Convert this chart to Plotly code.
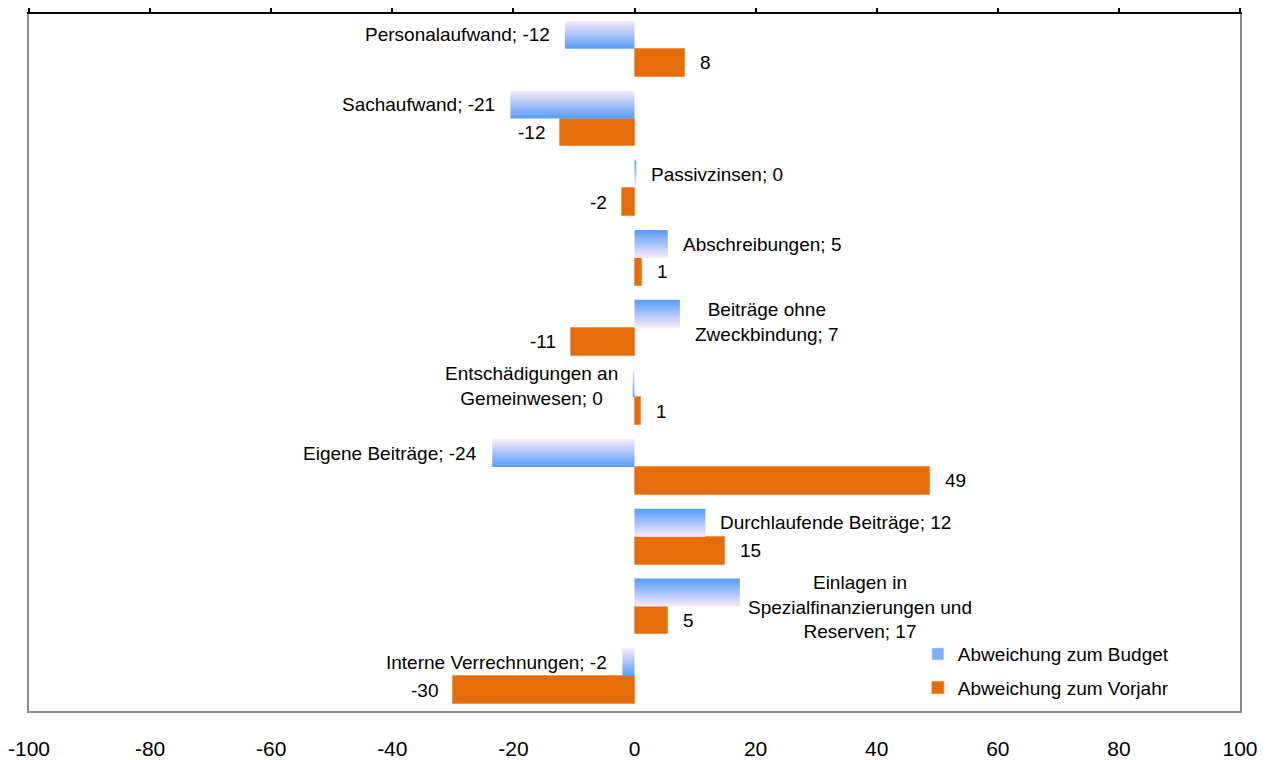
import plotly.graph_objects as go

# ---------------- data ----------------
categories = ["Personalaufwand", "Sachaufwand", "Passivzinsen", "Abschreibungen",
              "Beiträge ohne Zweckbindung", "Entschädigungen an Gemeinwesen",
              "Eigene Beiträge", "Durchlaufende Beiträge",
              "Einlagen in Spezialfinanzierungen und Reserven", "Interne Verrechnungen"]
budget_labels = ["Personalaufwand; -12", "Sachaufwand; -21", "Passivzinsen; 0",
                 "Abschreibungen; 5", "Beiträge ohne<br>Zweckbindung; 7",
                 "Entschädigungen an<br>Gemeinwesen; 0", "Eigene Beiträge; -24",
                 "Durchlaufende Beiträge; 12",
                 "Einlagen in<br>Spezialfinanzierungen und<br>Reserven; 17",
                 "Interne Verrechnungen; -2"]
budget = [-11.5, -20.5, 0.3, 5.5, 7.5, -0.3, -23.5, 11.7, 17.4, -2.0]
vorjahr = [8.3, -12.3, -2.0, 1.2, -10.5, 1.0, 48.8, 14.9, 5.5, -30.0]
vorjahr_labels = ["8", "-12", "-2", "1", "-11", "1", "49", "15", "5", "-30"]
x_ticks = [-100, -80, -60, -40, -20, 0, 20, 40, 60, 80, 100]
series_names = ["Abweichung zum Budget", "Abweichung zum Vorjahr"]

# ---------------- style ----------------
FONT = "Arial, Liberation Sans, sans-serif"
BLUE = "rgb(88,155,250)"
PALE = "rgb(248,234,248)"
ORANGE = "#E46C0A"
BAR_H = 0.4
# label placement tweaks (pixels): (xshift extra, yshift)
label_tweak = {4: (0, -8), 5: (0, -3), 8: (-7, -14)}

fig = go.Figure()

# blue gradient bars (one filled shape per category, positioned from data)
for i, v in enumerate(budget):
    top = i - BAR_H
    bot = i
    cs = [[0, PALE], [1, BLUE]] if v < 0 else [[0, BLUE], [1, PALE]]
    fig.add_trace(go.Scatter(
        x=[0, v, v, 0, 0], y=[top, top, bot, bot, top],
        mode="lines", line=dict(width=0), fill="toself",
        fillgradient=dict(type="vertical", colorscale=cs, start=top, stop=bot),
        name=series_names[0], showlegend=False, hoverinfo="skip"))

# legend entry for the budget series
fig.add_trace(go.Bar(x=[None], y=[None], orientation="h",
                     marker=dict(color="rgb(125,175,250)"),
                     name=series_names[0], legendgroup="a", hoverinfo="skip"))

# orange bars
fig.add_trace(go.Bar(
    x=vorjahr, y=[i + BAR_H / 2 for i in range(len(vorjahr))],
    orientation="h", width=BAR_H,
    marker=dict(color=ORANGE, line=dict(color="#F08A3A", width=0.8)),
    name=series_names[1], legendgroup="b", hoverinfo="skip"))

annotations = []
for i, (v, t) in enumerate(zip(budget, budget_labels)):
    dx, dy = label_tweak.get(i, (0, 0))
    left = v >= 0
    annotations.append(dict(
        x=v, y=i - BAR_H / 2, xref="x", yref="y", text=t, showarrow=False,
        xanchor="left" if left else "right", yanchor="middle",
        xshift=(13 + dx) if left else -(13 + dx), yshift=dy, align="center",
        font=dict(family=FONT, size=19, color="#000")))
for i, (v, t) in enumerate(zip(vorjahr, vorjahr_labels)):
    left = v >= 0
    annotations.append(dict(
        x=v, y=i + BAR_H / 2, xref="x", yref="y", text=t, showarrow=False,
        xanchor="left" if left else "right", yanchor="middle",
        xshift=13 if left else -13,
        font=dict(family=FONT, size=19, color="#000")))

fig.update_layout(
    width=1265, height=752,
    margin=dict(l=21, r=33, t=6, b=49, autoexpand=False),
    paper_bgcolor="white", plot_bgcolor="white",
    barmode="overlay", bargap=0,
    font=dict(family=FONT, size=19, color="#000"),
    annotations=annotations,
    xaxis=dict(range=[-100, 100], tickvals=x_ticks, ticktext=[str(t) for t in x_ticks],
               ticks="", showgrid=False, zeroline=False, showline=True,
               linecolor="#8C8C8C", linewidth=2, ticklabelstandoff=18,
               ticklabeloverflow="allow",
               tickfont=dict(family=FONT, size=21, color="#000")),
    xaxis2=dict(range=[-100, 100], overlaying="x", side="top", matches="x",
                tickvals=x_ticks, ticks="outside", ticklen=6, tickcolor="#000",
                tickwidth=1.5, showticklabels=False, showgrid=False, zeroline=False,
                showline=True, linecolor="#000", linewidth=2),
    yaxis=dict(range=[9.5, -0.5], showticklabels=False, ticks="", showgrid=False,
               zeroline=False, showline=True, mirror=True, linecolor="#8C8C8C",
               linewidth=2),
    legend=dict(x=0.734, y=0.109, xanchor="left", yanchor="top",
                traceorder="grouped", tracegroupgap=6, itemwidth=30,
                bgcolor="rgba(0,0,0,0)", font=dict(family=FONT, size=19, color="#000")),
    showlegend=True,
)
# invisible trace to activate the top axis
fig.add_trace(go.Scatter(x=[0], y=[0], xaxis="x2", mode="markers",
                         marker=dict(opacity=0), showlegend=False, hoverinfo="skip"))

fig.write_html("out.html")
